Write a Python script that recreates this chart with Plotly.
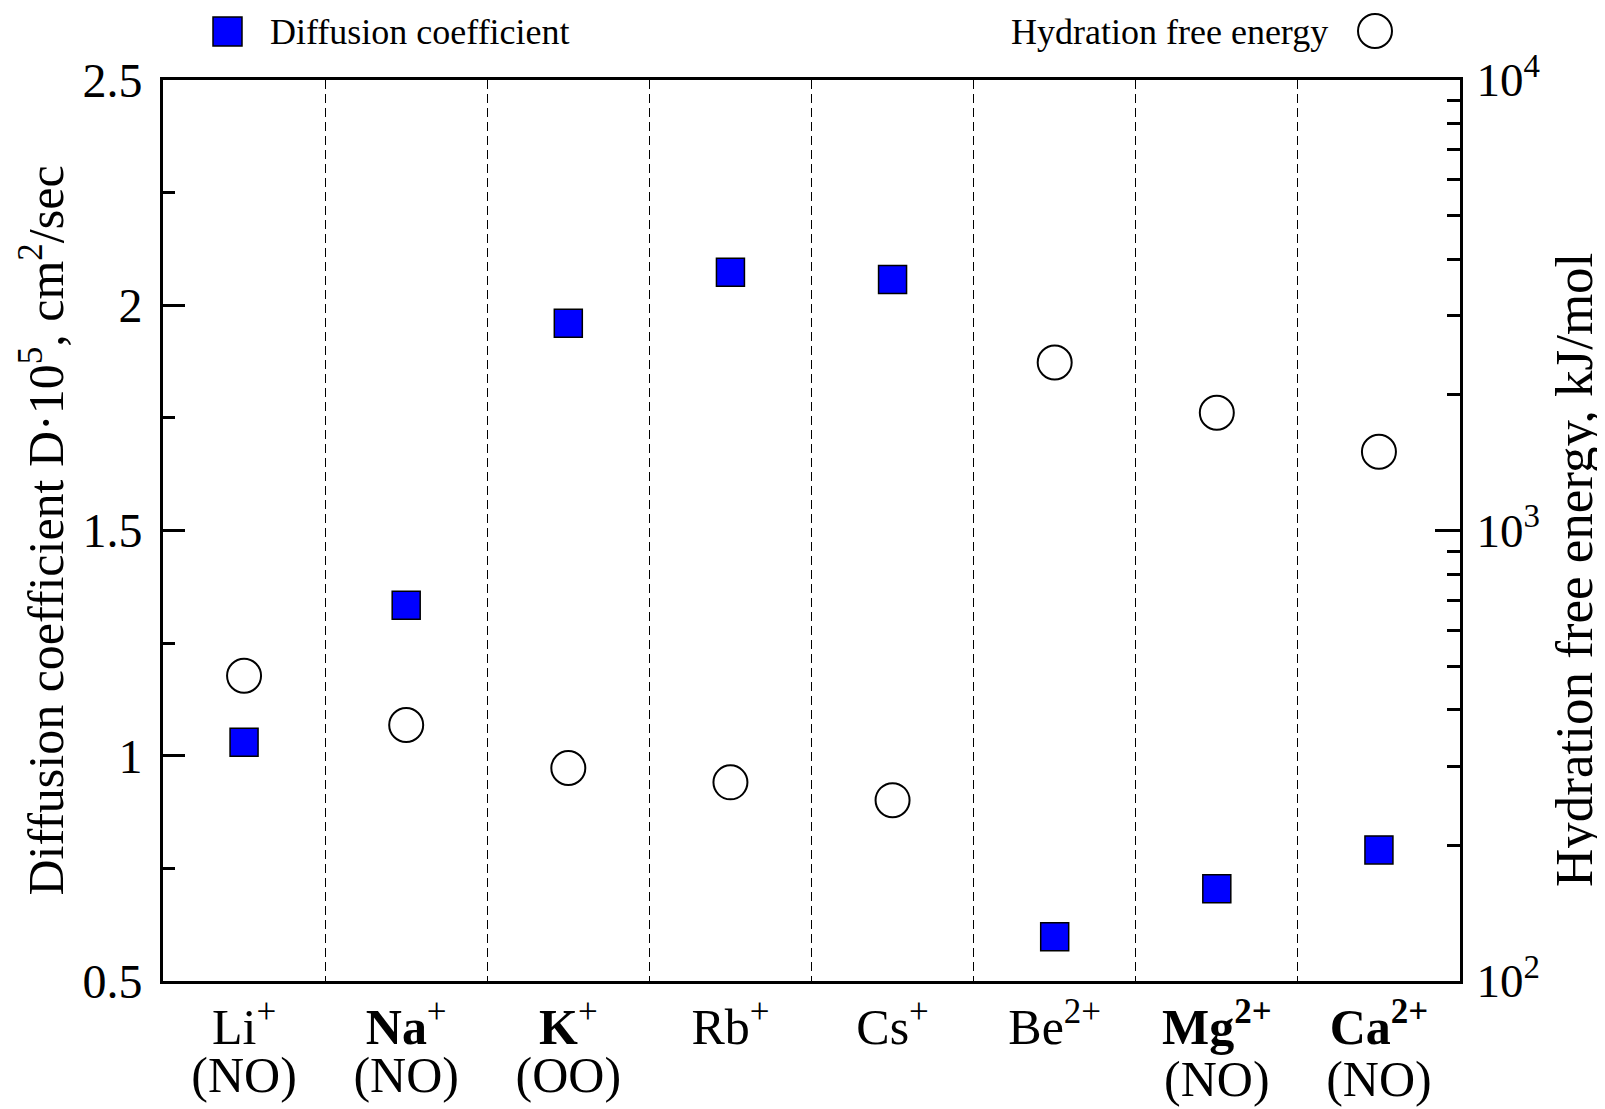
import plotly.graph_objects as go

# ---------------- data ----------------
ions = ["Li", "Na", "K", "Rb", "Cs", "Be", "Mg", "Ca"]
tick_line1 = [
    "Li<sup>+</sup>",
    "<b>Na</b><sup>+</sup>",
    "<b>K</b><sup>+</sup>",
    "Rb<sup>+</sup>",
    "Cs<sup>+</sup>",
    "Be<sup>2+</sup>",
    "<b>Mg</b><sup><b>2+</b></sup>",
    "<b>Ca</b><sup><b>2+</b></sup>",
]
tick_line2_alkali = ["(NO)", "(NO)", "(OO)", "", "", "", "", ""]
tick_line2_earth = ["", "", "", "", "", "", "(NO)", "(NO)"]
diffusion = [1.03, 1.334, 1.96, 2.073, 2.057, 0.598, 0.705, 0.791]   # D*10^5, cm^2/s
hydration = [476, 370, 297, 276, 252, 2360, 1825, 1496]               # kJ/mol (magnitude)
left_ticks = [0.5, 1.0, 1.5, 2.0, 2.5]
left_ticktext = ["0.5", "1", "1.5", "2", "2.5"]
right_ticks = [100, 1000, 10000]
right_ticktext = ["10<sup>2</sup>", "10<sup>3</sup>", "10<sup>4</sup>"]

xpos = [i + 1 for i in range(len(ions))]

# page geometry (the page body has an 8px margin)
OFF = 8
PAGE_W, PAGE_H = 1605, 1109
W, H = PAGE_W - OFF, PAGE_H - OFF
L, R, T, B = 163, 1460, 80, 981          # plot area in page pixels
FONT = "Liberation Serif, Times New Roman, serif"


def px_x(p):
    return (p - L) / (R - L)


def px_y(p):
    return (B - p) / (B - T)


fig = go.Figure()
fig.add_trace(go.Scatter(
    x=xpos, y=diffusion, mode="markers", name="Diffusion coefficient",
    marker=dict(symbol="square", size=28, color="#0000ff",
                line=dict(color="black", width=1.5)),
    yaxis="y", showlegend=False,
))
fig.add_trace(go.Scatter(
    x=xpos, y=hydration, mode="markers", name="Hydration free energy",
    marker=dict(symbol="circle", size=34, color="white",
                line=dict(color="black", width=2)),
    yaxis="y2", showlegend=False,
))

shapes = [
    # legend glyphs
    dict(type="rect", xref="paper", yref="paper",
         x0=px_x(213), x1=px_x(242), y0=px_y(46), y1=px_y(17),
         fillcolor="#0000ff", line=dict(color="black", width=1.5)),
    dict(type="circle", xref="paper", yref="paper",
         x0=px_x(1358), x1=px_x(1392), y0=px_y(48), y1=px_y(14),
         fillcolor="white", line=dict(color="black", width=2)),
]

annotations = [
    dict(text="Diffusion coefficient", xref="paper", yref="paper",
         x=px_x(268), y=px_y(32), xanchor="left", yanchor="middle",
         showarrow=False, font=dict(family=FONT, size=36, color="black")),
    dict(text="Hydration free energy", xref="paper", yref="paper",
         x=px_x(1330), y=px_y(32), xanchor="right", yanchor="middle",
         showarrow=False, font=dict(family=FONT, size=36, color="black")),
    dict(text="Hydration free energy, kJ/mol", xref="paper", yref="paper",
         x=px_x(1574), y=px_y(570), xanchor="center", yanchor="middle",
         textangle=-90, showarrow=False,
         font=dict(family=FONT, size=53, color="black")),
]

second_line_axis = dict(
    overlaying="x", matches="x", side="bottom", anchor="y", automargin=False,
    range=[0.5, len(ions) + 0.5], tickmode="array", tickvals=xpos,
    tickfont=dict(family=FONT, size=50, color="black"),
    ticks="", showgrid=False, zeroline=False, showline=False,
)

fig.update_layout(
    width=W, height=H,
    margin=dict(l=L - OFF, r=PAGE_W - R, t=T - OFF, b=PAGE_H - B,
                autoexpand=False),
    paper_bgcolor="white", plot_bgcolor="white",
    font=dict(family=FONT, color="black"),
    shapes=shapes, annotations=annotations,
    xaxis=dict(
        range=[0.5, len(ions) + 0.5], automargin=False,
        tickmode="array", tickvals=xpos, ticktext=tick_line1,
        tickfont=dict(family=FONT, size=50, color="black"),
        ticks="", showgrid=False, zeroline=False,
        showline=True, linecolor="black", linewidth=3, mirror=True,
        minor=dict(tickvals=[p + 0.5 for p in xpos[:-1]], showgrid=True,
                   griddash="9px,5px", gridcolor="black", gridwidth=1.4,
                   ticks=""),
    ),
    xaxis2=dict(second_line_axis, ticktext=tick_line2_alkali, ticklabelstandoff=60),
    xaxis3=dict(second_line_axis, ticktext=tick_line2_earth, ticklabelstandoff=64),
    yaxis=dict(
        range=[0.5, 2.5], automargin=False,
        tickmode="array", tickvals=left_ticks, ticktext=left_ticktext,
        tickfont=dict(family=FONT, size=48, color="black"),
        ticks="inside", ticklen=22, tickwidth=2.5, tickcolor="black",
        ticklabelstandoff=8,
        minor=dict(dtick=0.25, tick0=0.5, ticks="inside", ticklen=12,
                   tickwidth=2.5, tickcolor="black"),
        showgrid=False, zeroline=False,
        showline=True, linecolor="black", linewidth=3,
        title=dict(text="Diffusion coefficient D·10<sup>5</sup>, cm<sup>2</sup>/sec",
                   font=dict(family=FONT, size=50, color="black"), standoff=3),
    ),
    yaxis2=dict(
        type="log", range=[2, 4], overlaying="y", side="right", automargin=False,
        tickmode="array", tickvals=right_ticks, ticktext=right_ticktext,
        tickfont=dict(family=FONT, size=47, color="black"),
        ticks="inside", ticklen=25, tickwidth=2.5, tickcolor="black",
        ticklabelstandoff=4,
        minor=dict(tickvals=[m * 10 ** e for e in (2, 3) for m in range(2, 10)],
                   ticks="inside", ticklen=13, tickwidth=2.5, tickcolor="black"),
        showgrid=False, zeroline=False,
        showline=True, linecolor="black", linewidth=3,
    ),
)

for ax in ("x2", "x3"):
    fig.add_trace(go.Scatter(x=[], y=[], xaxis=ax, yaxis="y", showlegend=False,
                             hoverinfo="skip"))

fig.write_html("out.html")
